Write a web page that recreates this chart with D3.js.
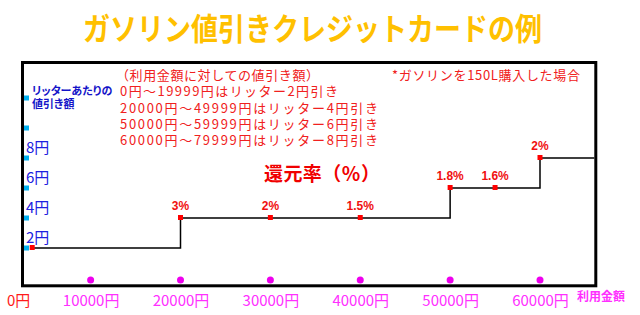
<!DOCTYPE html>
<html>
<head>
<meta charset="utf-8">
<script src="https://cdn.jsdelivr.net/npm/d3@7"></script>
<style>
  body { margin: 0; background: #fff; }
  svg { display: block; }
  text { font-family: "Noto Sans CJK JP", "Noto Sans", sans-serif; }
</style>
</head>
<body>
<svg id="chart" width="640" height="315"></svg>
<script>
// data
const amounts = [3500, 20000, 30000, 40000, 50000, 55000, 60000];
const discounts = [2, 4, 4, 4, 6, 6, 8];
const rateLabels = ["", "3%", "2%", "1.5%", "1.8%", "1.6%", "2%"];
const xTicks = [10000, 20000, 30000, 40000, 50000, 60000];
const xTickLabels = ["10000円", "20000円", "30000円", "40000円", "50000円", "60000円"];
const yTicks = [2, 4, 6, 8, 10, 12];
const yTickLabels = ["2円", "4円", "6円", "8円", "", ""];
const noteLines = [
    "（利用金額に対しての値引き額）",
    "0円～19999円はリッター2円引き",
    "20000円～49999円はリッター4円引き",
    "50000円～59999円はリッター6円引き",
    "60000円～79999円はリッター8円引き"
];

const width = 640, height = 315;
const frame = { left: 22.5, top: 62.5, right: 595.8, bottom: 285.8 };

const svg = d3.select("#chart");

const x = d3.scaleLinear().domain([0, 60000]).range([0.75, 540]);
const y = d3.scaleLinear().domain([0, 12]).range([278, 98]);

// title
svg.append("text")
    .attr("x", 83).attr("y", 40)
    .attr("font-size", 31).attr("font-weight", "bold")
    .attr("fill", "#ffc000")
    .attr("textLength", 459).attr("lengthAdjust", "spacingAndGlyphs")
    .text("ガソリン値引きクレジットカードの例");

// frame
svg.append("rect")
    .attr("x", frame.left).attr("y", frame.top)
    .attr("width", frame.right - frame.left)
    .attr("height", frame.bottom - frame.top)
    .attr("fill", "none").attr("stroke", "#000").attr("stroke-width", 3);

// notes
const notes = svg.append("g").attr("fill", "#f02020").attr("font-size", 13);
notes.selectAll("text")
    .data(noteLines)
    .join("text")
    .attr("x", (d, i) => i === 0 ? 116 : 120)
    .attr("y", (d, i) => [80, 96, 113, 129, 145][i])
    .attr("textLength", (d, i) => [203, 218, 258, 258, 258][i])
    .text(d => d);

notes.append("text")
    .attr("x", 392).attr("y", 80)
    .attr("textLength", 188)
    .text("*ガソリンを150L購入した場合");

svg.append("text")
    .attr("x", 264).attr("y", 181)
    .attr("font-size", 19).attr("font-weight", "bold")
    .attr("fill", "#f00000")
    .attr("textLength", 116)
    .text("還元率（％）");

// y axis title
const yTitle = svg.append("g")
    .attr("fill", "#1414c8").attr("font-size", 11).attr("font-weight", "bold")
    .style("font-feature-settings", "'palt'");
yTitle.append("text").attr("x", 32).attr("y", 95).text("リッターあたりの");
yTitle.append("text").attr("x", 32).attr("y", 108).text("値引き額");

// y ticks as small squares
svg.append("g").selectAll("rect")
    .data(yTicks)
    .join("rect")
    .attr("x", 24).attr("y", d => y(d) - 2.5)
    .attr("width", 5).attr("height", 5)
    .attr("fill", "#00b0f0");

svg.append("g")
    .attr("fill", "#2020e0").attr("font-size", 15)
    .selectAll("text")
    .data(yTicks.map((d, i) => ({ v: d, label: yTickLabels[i] })).filter(d => d.label))
    .join("text")
    .attr("x", 26).attr("y", d => y(d.v) - 5)
    .text(d => d.label);

// x axis labels
const xAxis = d3.axisBottom(x)
    .tickValues(xTicks)
    .tickSize(0)
    .tickFormat((d, i) => xTickLabels[i]);

const xg = svg.append("g").attr("transform", "translate(0,306)").call(xAxis);
xg.select(".domain").remove();
xg.selectAll("text")
    .attr("y", 0).attr("dy", null)
    .attr("font-size", 15)
    .attr("font-family", "Noto Sans CJK JP")
    .attr("fill", "#ff30ff");

svg.append("text")
    .attr("x", 7).attr("y", 306)
    .attr("font-size", 15).attr("fill", "#ff1a1a")
    .text("0円");

svg.append("text")
    .attr("x", 577).attr("y", 301)
    .attr("font-size", 12).attr("font-weight", "bold")
    .attr("fill", "#ff30ff")
    .text("利用金額");

// x tick dots
svg.append("g").selectAll("circle")
    .data(xTicks)
    .join("circle")
    .attr("cx", d => x(d)).attr("cy", 280)
    .attr("r", 3.5)
    .attr("fill", "#ee00ee");

// step line
const stepData = amounts.map((a, i) => ({ a, v: discounts[i] }));
stepData.push({ a: x.invert(frame.right - 1.5), v: discounts[discounts.length - 1] });

const line = d3.line()
    .x(d => x(d.a))
    .y(d => y(d.v))
    .curve(d3.curveStepAfter);

svg.append("path")
    .datum(stepData)
    .attr("d", line)
    .attr("fill", "none")
    .attr("stroke", "#000")
    .attr("stroke-width", 1.5);

const pts = amounts.map((a, i) => ({ a, v: discounts[i], label: rateLabels[i] }));

svg.append("g").selectAll("rect")
    .data(pts)
    .join("rect")
    .attr("x", d => x(d.a) - 2.5)
    .attr("y", d => y(d.v) - 3)
    .attr("width", 5).attr("height", 5)
    .attr("fill", "#ff0000");

svg.append("g")
    .attr("fill", "#f01010").attr("font-size", 12).attr("font-weight", "bold")
    .attr("text-anchor", "middle")
    .selectAll("text")
    .data(pts.filter(d => d.label))
    .join("text")
    .attr("x", d => x(d.a))
    .attr("y", d => y(d.v) - 8)
    .style("font-family", "'Liberation Sans', Arial, sans-serif")
    .text(d => d.label);
</script>
</body>
</html>
